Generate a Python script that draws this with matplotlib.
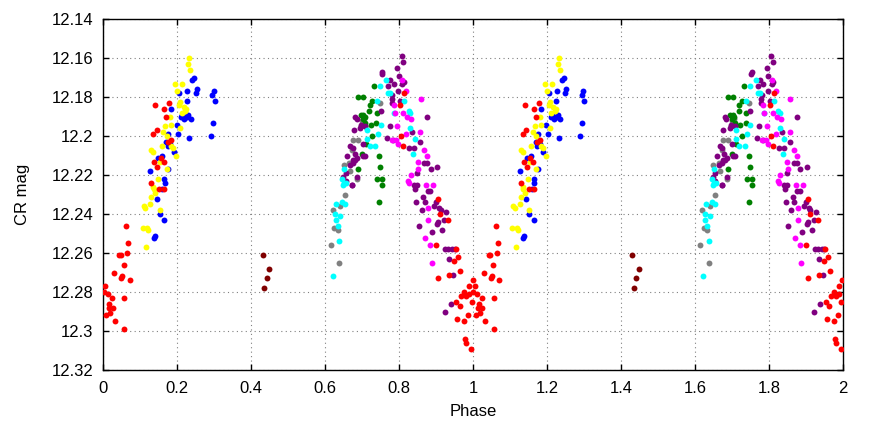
import numpy as np
import matplotlib
matplotlib.use("Agg")
import matplotlib.pyplot as plt

plt.rcParams['font.family'] = ['Liberation Sans', 'DejaVu Sans']

# phase-folded points (phase 0..1), each group plotted at phase and phase+1
red_phase = [0.141, 0.164, 0.178, 0.169, 0.144, 0.135, 0.182, 0.174, 0.138, 0.155, 0.163, 0.146, 0.129,
             0.150, 0.164, 0.062, 0.068, 0.065, 0.043, 0.047, 0.055, 0.029, 0.050, 0.048, 0.071, 0.005,
             0.001, 0.012, 0.023, 0.057, 0.015, 0.025, 0.014, 0.019, 0.007, 0.031, 0.056,
             0.814, 0.803, 0.805, 0.810,
             0.905, 0.911, 0.932, 0.900, 0.953, 0.960, 0.948, 0.966, 0.936, 0.906, 0.999, 0.990, 0.975,
             0.982, 0.990, 0.968, 0.955, 0.964, 0.996, 0.987, 0.957, 0.975, 0.979, 0.982, 0.995]
red_mag = [12.184, 12.186, 12.183, 12.190, 12.197, 12.199, 12.202, 12.203, 12.213, 12.211, 12.213, 12.216, 12.224,
           12.227, 12.227, 12.246, 12.255, 12.260, 12.261, 12.261, 12.266, 12.270, 12.272, 12.273, 12.274, 12.277,
           12.280, 12.281, 12.283, 12.283, 12.286, 12.288, 12.288, 12.291, 12.292, 12.295, 12.299,
           12.178, 12.184, 12.200, 12.205,
           12.232, 12.240, 12.243, 12.256, 12.258, 12.262, 12.264, 12.269, 12.271, 12.273, 12.274, 12.277, 12.280,
           12.282, 12.281, 12.282, 12.285, 12.287, 12.285, 12.292, 12.294, 12.295, 12.304, 12.306, 12.309]

yellow_phase = [0.2325, 0.230, 0.235, 0.194, 0.214, 0.200, 0.207, 0.206, 0.217, 0.224, 0.222, 0.212, 0.180,
                0.183, 0.167, 0.162, 0.207, 0.171, 0.158, 0.184, 0.188, 0.130, 0.134, 0.196, 0.153, 0.171,
                0.149, 0.135, 0.136, 0.141, 0.130, 0.127, 0.109, 0.114, 0.152, 0.106, 0.118, 0.121, 0.115]
yellow_mag = [12.160, 12.163, 12.166, 12.173, 12.173, 12.177, 12.1825, 12.184, 12.185, 12.186, 12.187, 12.188, 12.190,
              12.194, 12.195, 12.198, 12.196, 12.200, 12.205, 12.205, 12.206, 12.207, 12.208, 12.210, 12.213, 12.217,
              12.222, 12.226, 12.227, 12.229, 12.231, 12.235, 12.236, 12.237, 12.238, 12.247, 12.247, 12.248, 12.257]

blue_phase = [0.246, 0.240, 0.252, 0.250, 0.298, 0.294, 0.301, 0.227, 0.205, 0.225, 0.184, 0.214, 0.210,
              0.221, 0.230, 0.218, 0.236, 0.227, 0.296, 0.198, 0.202, 0.176, 0.233, 0.290, 0.170, 0.174,
              0.181, 0.190, 0.147, 0.158, 0.126, 0.176, 0.165, 0.166, 0.159, 0.144, 0.152, 0.164, 0.139, 0.136]
blue_mag = [12.170, 12.171, 12.176, 12.178, 12.177, 12.179, 12.182, 12.177, 12.178, 12.182, 12.186, 12.189, 12.190,
            12.190, 12.189, 12.191, 12.191, 12.190, 12.193, 12.194, 12.199, 12.199, 12.201, 12.200, 12.203, 12.205,
            12.204, 12.208, 12.211, 12.210, 12.218, 12.217, 12.222, 12.224, 12.227, 12.232, 12.240, 12.243, 12.251, 12.252]

maroon_phase = [0.431, 0.449, 0.442, 0.435]
maroon_mag = [12.261, 12.268, 12.273, 12.278]

purple_phase = [0.807, 0.810, 0.794, 0.755, 0.753, 0.799, 0.776, 0.785, 0.808, 0.812, 0.771, 0.797, 0.782,
                0.780, 0.803, 0.780, 0.750, 0.685, 0.682, 0.875, 0.697, 0.708, 0.774, 0.677, 0.695, 0.836,
                0.768, 0.784, 0.857, 0.668, 0.674, 0.701, 0.827, 0.841, 0.659, 0.680, 0.703, 0.675, 0.681,
                0.686, 0.709, 0.674, 0.868, 0.875, 0.903, 0.885, 0.666, 0.849, 0.655, 0.648, 0.673, 0.840,
                0.848, 0.843, 0.877, 0.883, 0.865, 0.847, 0.869, 0.900, 0.894, 0.909, 0.912, 0.928, 0.861,
                0.921, 0.902, 0.906, 0.853, 0.916, 0.889, 0.925, 0.932, 0.944, 0.950, 0.936, 0.947, 0.939,
                0.923, 0.686, 0.673, 0.655]
purple_mag = [12.159, 12.162, 12.165, 12.167, 12.168, 12.169, 12.171, 12.173, 12.173, 12.172, 12.174, 12.177, 12.179,
              12.181, 12.182, 12.183, 12.187, 12.191, 12.190, 12.190, 12.194, 12.195, 12.195, 12.197, 12.196, 12.198,
              12.201, 12.202, 12.203, 12.205, 12.206, 12.204, 12.206, 12.206, 12.210, 12.209, 12.210, 12.212, 12.212,
              12.211, 12.210, 12.214, 12.214, 12.214, 12.216, 12.217, 12.215, 12.219, 12.219, 12.221, 12.225, 12.225,
              12.225, 12.227, 12.228, 12.228, 12.231, 12.234, 12.234, 12.234, 12.236, 12.237, 12.238, 12.239, 12.238,
              12.243, 12.245, 12.244, 12.246, 12.248, 12.249, 12.258, 12.258, 12.258, 12.258, 12.263, 12.271, 12.286,
              12.290, 12.221, 12.225, 12.223]

magenta_phase = [0.808, 0.819, 0.858, 0.785, 0.788, 0.810, 0.821, 0.832, 0.794, 0.819, 0.856, 0.782, 0.791,
                 0.798, 0.868, 0.875, 0.850, 0.852, 0.831, 0.824, 0.874, 0.892, 0.827, 0.879, 0.879, 0.870,
                 0.884, 0.888]
magenta_mag = [12.171, 12.177, 12.181, 12.184, 12.188, 12.188, 12.190, 12.191, 12.195, 12.199, 12.198, 12.202, 12.202,
               12.204, 12.207, 12.210, 12.213, 12.217, 12.220, 12.223, 12.225, 12.225, 12.224, 12.237, 12.243, 12.252,
               12.256, 12.265]

cyan_phase = [0.765, 0.748, 0.770, 0.775, 0.814, 0.739, 0.826, 0.829, 0.787, 0.750, 0.830, 0.712, 0.742,
              0.712, 0.842, 0.720, 0.735, 0.838, 0.652, 0.645, 0.652, 0.648, 0.657, 0.630, 0.645, 0.654,
              0.626, 0.641, 0.628, 0.634, 0.637, 0.622]
cyan_mag = [12.171, 12.174, 12.178, 12.178, 12.182, 12.182, 12.187, 12.188, 12.188, 12.194, 12.196, 12.197, 12.199,
            12.2015, 12.2015, 12.205, 12.205, 12.209, 12.217, 12.222, 12.224, 12.225, 12.224, 12.235, 12.234, 12.235,
            12.240, 12.241, 12.243, 12.246, 12.254, 12.272]

green_phase = [0.733, 0.689, 0.703, 0.728, 0.720, 0.718, 0.696, 0.702, 0.707, 0.701, 0.739, 0.709, 0.723,
               0.737, 0.708, 0.727, 0.711, 0.700, 0.746, 0.690, 0.749, 0.740, 0.754, 0.755, 0.745]
green_mag = [12.174, 12.180, 12.180, 12.182, 12.184, 12.187, 12.189, 12.189, 12.190, 12.191, 12.188, 12.193, 12.194,
             12.193, 12.195, 12.200, 12.204, 12.209, 12.210, 12.217, 12.216, 12.222, 12.222, 12.225, 12.234]

gray_phase = [0.747, 0.700, 0.706, 0.697, 0.676, 0.690, 0.672, 0.650, 0.664, 0.668, 0.686, 0.654, 0.641,
              0.620, 0.625, 0.634, 0.615, 0.637]
gray_mag = [12.183, 12.192, 12.191, 12.195, 12.202, 12.202, 12.207, 12.215, 12.214, 12.218, 12.222, 12.230, 12.236,
            12.238, 12.247, 12.248, 12.256, 12.265]

groups = [
    (gray_phase, gray_mag, '#808080'),
    (green_phase, green_mag, '#008000'),
    (purple_phase, purple_mag, '#800080'),
    (cyan_phase, cyan_mag, '#00ffff'),
    (magenta_phase, magenta_mag, '#ff00ff'),
    (maroon_phase, maroon_mag, '#800000'),
    (blue_phase, blue_mag, '#0000ff'),
    (yellow_phase, yellow_mag, '#ffff00'),
    (red_phase, red_mag, '#ff0000'),
]

fig = plt.figure(figsize=(8.72, 4.26), dpi=100)
ax = fig.add_axes([0.1185, 0.1315, 0.848, 0.8232])

for ph, mag, col in groups:
    ph = np.array(ph)
    mag = np.array(mag)
    ax.scatter(np.concatenate([ph, ph + 1]), np.concatenate([mag, mag]),
               s=18, color=col, linewidths=0, zorder=3)

ax.set_xlim(0, 2)
ax.set_ylim(12.32, 12.14)
xt = np.arange(0, 2.01, 0.2)
ax.set_xticks(xt)
ax.set_xticklabels(['%g' % round(v, 1) for v in xt])
yt = np.arange(12.14, 12.3201, 0.02)
ax.set_yticks(yt)
ax.set_yticklabels(['%g' % round(v, 2) for v in yt])
ax.tick_params(direction='in', length=4, width=1, top=True, right=True, labelsize=12)
ax.tick_params(axis='x', pad=8)
ax.tick_params(axis='y', pad=7)
ax.grid(True, linestyle=(0, (1, 3)), color='#808080', linewidth=0.8)
for sp in ax.spines.values():
    sp.set_linewidth(1)
ax.set_xlabel('Phase', fontsize=12, labelpad=6)
ax.set_ylabel('CR mag', fontsize=12, labelpad=16)

fig.savefig('out.png', dpi=100)
